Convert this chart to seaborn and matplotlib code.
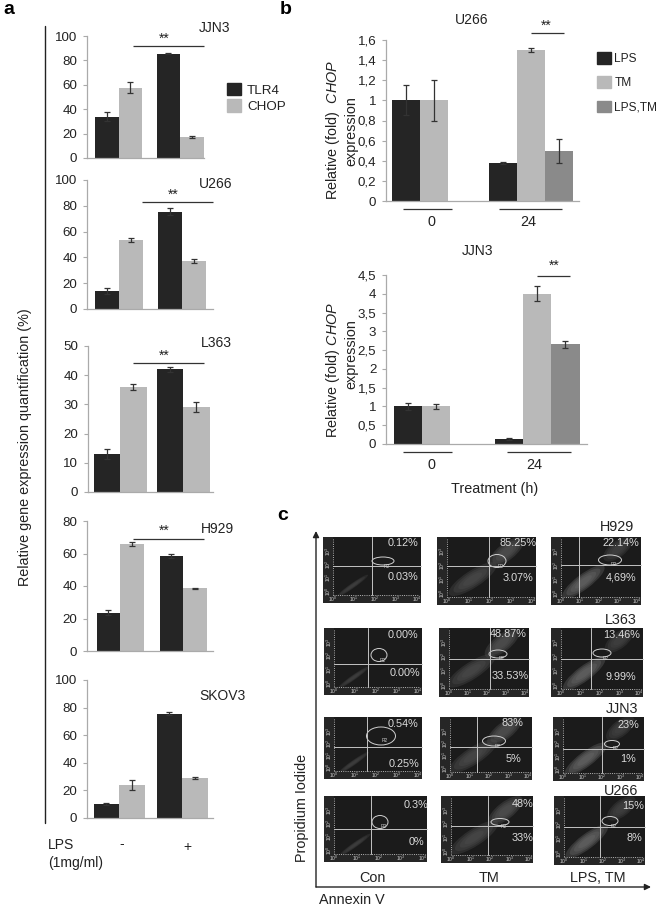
import pandas as pd
import matplotlib
matplotlib.use('Agg')
import matplotlib.pyplot as plt
from matplotlib.patches import Ellipse, Rectangle, Patch
import seaborn as sns

# panel a: values are TLR4-, CHOP-, TLR4+, CHOP+
lps_levels = ['-', '+']
genes = ['TLR4', 'CHOP']
jjn3_a = [34, 57.5, 85.5, 17]
jjn3_a_err = [3.5, 4.5, 0.5, 1]
u266_a = [14, 53.5, 75.5, 37.5]
u266_a_err = [2, 1.5, 3, 1.5]
l363_a = [13, 36, 42, 29]
l363_a_err = [1.6, 0.9, 0.8, 1.7]
h929_a = [23.5, 66, 58.5, 38.5]
h929_a_err = [1.5, 1.3, 1, 0.3]
skov3_a = [10, 24, 75.5, 29]
skov3_a_err = [0.7, 3.5, 1, 0.8]

# panel b: LPS, TM, LPS+TM at 0 h and 24 h
hours = ['0', '24']
treatments = ['LPS', 'TM', 'LPS,TM']
u266_b = [1.0, 1.0, None, 0.38, 1.5, 0.5]
u266_b_err = [0.15, 0.2, None, 0.01, 0.02, 0.12]
jjn3_b = [1.0, 1.0, None, 0.13, 4.0, 2.65]
jjn3_b_err = [0.09, 0.06, None, 0.02, 0.2, 0.1]
u266_ticks = ['0', '0,2', '0,4', '0,6', '0,8', '1', '1,2', '1,4', '1,6']
jjn3_ticks = ['0', '0,5', '1', '1,5', '2', '2,5', '3', '3,5', '4', '4,5']

# panel c: percentages, upper then lower quadrant
h929_pct = [('0.12%', '0.03%'), ('85.25%', '3.07%'), ('22.14%', '4,69%')]
l363_pct = [('0.00%', '0.00%'), ('48.87%', '33.53%'), ('13.46%', '9.99%')]
jjn3_pct = [('0.54%', '0.25%'), ('83%', '5%'), ('23%', '1%')]
u266_pct = [('0.3%', '0%'), ('48%', '33%'), ('15%', '8%')]

W, H = 658, 908
BAR_DARK = '#252525'
BAR_LIGHT = '#b9b9b9'
BAR_MID = '#8a8a8a'
TXT = '#222222'
FS = 9.6

sns.set_theme(style='white')
plt.rcParams['font.family'] = ['Liberation Sans', 'DejaVu Sans']
plt.rcParams['mathtext.fontset'] = 'custom'
plt.rcParams['mathtext.it'] = 'Liberation Sans:italic'
plt.rcParams['mathtext.rm'] = 'Liberation Sans'

fig = plt.figure(figsize=(W / 100, H / 100), dpi=100, facecolor='white')


def draw_bars(left, right, top, bottom, c0, c1, bar_total, levels, hues, vals, errs,
              ymax, ticks, ticklabels, colors):
    ax = fig.add_axes([left / W, 1 - bottom / H, (right - left) / W, (bottom - top) / H])
    rows = []
    i = 0
    for lev in levels:
        for hue in hues:
            rows.append({'x': lev, 'hue': hue, 'y': vals[i], 'err': errs[i]})
            i += 1
    df = pd.DataFrame(rows)
    df['y'] = df['y'].astype(float)
    df['err'] = df['err'].astype(float)
    sep = c1 - c0
    sns.barplot(data=df, x='x', y='y', hue='hue', order=levels, hue_order=hues,
                palette=colors, saturation=1, width=bar_total / sep, gap=0,
                errorbar=None, legend=False, linewidth=0, ax=ax)
    for cont, hue in zip(ax.containers, hues):
        sub = df[df['hue'] == hue].dropna(subset=['y'])
        for patch, (_, r) in zip(cont, sub.iterrows()):
            ax.errorbar(patch.get_x() + patch.get_width() / 2, r['y'], yerr=r['err'],
                        color='#333333', lw=0.9, capsize=2.2, capthick=0.9)
    ax.set_xlim((left - c0) / sep, (right - c0) / sep)
    ax.set_ylim(0, ymax)
    ax.set_yticks(ticks)
    ax.set_yticklabels(ticklabels)
    ax.set_xticks([])
    ax.set_xlabel('')
    ax.set_ylabel('')
    ax.tick_params(axis='y', length=3, width=0.8, color='#aaaaaa', pad=4,
                   labelsize=FS, labelcolor=TXT, left=True)
    sns.despine(ax=ax)
    for s in ['left', 'bottom']:
        ax.spines[s].set_color('#aaaaaa')
        ax.spines[s].set_linewidth(0.9)
    ax.patch.set_alpha(0)
    return ax


t100 = [0, 20, 40, 60, 80, 100]
col_a = [BAR_DARK, BAR_LIGHT]
col_b = [BAR_DARK, BAR_LIGHT, BAR_MID]

draw_bars(87, 204, 36, 158, 118.5, 180, 47, lps_levels, genes, jjn3_a, jjn3_a_err, 100, t100, t100, col_a)
draw_bars(87, 213, 180, 309, 119, 182, 48, lps_levels, genes, u266_a, u266_a_err, 100, t100, t100, col_a)
t50 = [0, 10, 20, 30, 40, 50]
draw_bars(88, 213, 346, 492, 120, 183, 53, lps_levels, genes, l363_a, l363_a_err, 50, t50, t50, col_a)
t80 = [0, 20, 40, 60, 80]
draw_bars(87, 213, 521, 651, 120, 183, 47, lps_levels, genes, h929_a, h929_a_err, 80, t80, t80, col_a)
draw_bars(87, 213, 680, 818, 119, 182, 51, lps_levels, genes, skov3_a, skov3_a_err, 100, t100, t100, col_a)

draw_bars(386, 579, 40, 201, 434, 531, 84, hours, treatments, u266_b, u266_b_err, 1.6,
          [0, .2, .4, .6, .8, 1, 1.2, 1.4, 1.6], u266_ticks, col_b)
draw_bars(386, 587, 275, 444, 436, 537, 85, hours, treatments, jjn3_b, jjn3_b_err, 4.5,
          [0, .5, 1, 1.5, 2, 2.5, 3, 3.5, 4, 4.5], jjn3_ticks, col_b)

# everything else sits on one overlay in pixel coordinates
page = fig.add_axes([0, 0, 1, 1], zorder=5)
page.set_xlim(0, W)
page.set_ylim(H, 0)
page.axis('off')
page.patch.set_alpha(0)


def txt(x, y, s, size=FS, ha='center', **kw):
    page.text(x, y, s, fontsize=size, ha=ha, va='center', color=kw.pop('color', TXT), **kw)


def hline(x0, x1, y, color='#333333', lw=0.9):
    page.plot([x0, x1], [y, y], color=color, lw=lw, solid_capstyle='butt')


txt(9, 10, 'a', size=14, fontweight='bold', color='black')
txt(286, 9, 'b', size=14, fontweight='bold', color='black')
txt(283, 516, 'c', size=14, fontweight='bold', color='black')

# panel a annotations
page.plot([45, 45], [26, 823], color='#222222', lw=1.0)
txt(25, 447, 'Relative gene expression quantification (%)', size=10.4, rotation=90)
for name, x, y in [('JJN3', 215, 28), ('U266', 216, 184), ('L363', 216, 343),
                   ('H929', 217, 529), ('SKOV3', 222, 696)]:
    txt(x, y, name, size=10)
for x0, x1, y, sx, sy in [(133, 204, 45.5, 164, 39), (142, 213, 202, 173, 195),
                          (133, 204, 363, 164, 356), (133, 204, 539, 164, 531)]:
    hline(x0, x1, y)
    txt(sx, sy, '**', size=10)
txt(48, 845, 'LPS', ha='left', size=10)
txt(48, 863, '(1mg/ml)', ha='left', size=10)
txt(122, 844, '-', size=10)
txt(187, 847, '+', size=10)

# panel b annotations
txt(472, 20, 'U266', size=10)
txt(478, 251, 'JJN3', size=10)
txt(333, 130, r'Relative (fold)  $\mathit{CHOP}$', size=10.4, rotation=90)
txt(351, 131, 'expression', size=10.4, rotation=90)
txt(333, 354 + 16, r'Relative (fold) $\mathit{CHOP}$', size=10.4, rotation=90)
txt(351, 354, 'expression', size=10.4, rotation=90)
hline(403, 452, 209)
hline(499, 562, 209)
hline(403, 452, 452)
hline(507, 571, 452)
txt(431, 222, '0', size=10.4)
txt(528, 222, '24', size=10.4)
txt(431, 465, '0', size=10.4)
txt(534, 465, '24', size=10.4)
txt(495, 489, 'Treatment (h)', size=10.4)
hline(531, 564, 33)
txt(546, 26, '**', size=10)
hline(537, 570, 276)
txt(554, 266, '**', size=10)

# legends
leg_a = page.legend(handles=[Patch(color=BAR_DARK, label='TLR4'), Patch(color=BAR_LIGHT, label='CHOP')],
                    loc='upper left', bbox_to_anchor=(227 / W, 1 - 83 / H), bbox_transform=fig.transFigure,
                    frameon=False, fontsize=FS, handlelength=1.05, handleheight=1.05,
                    labelspacing=0.2, handletextpad=0.45, borderaxespad=0, borderpad=0)
for t in leg_a.get_texts():
    t.set_color(TXT)
page.add_artist(leg_a)
leg_b = page.legend(handles=[Patch(color=BAR_DARK, label='LPS'), Patch(color=BAR_LIGHT, label='TM'),
                             Patch(color=BAR_MID, label='LPS,TM')],
                    loc='upper left', bbox_to_anchor=(597 / W, 1 - 52 / H), bbox_transform=fig.transFigure,
                    frameon=False, fontsize=8.6, handlelength=1.15, handleheight=1.15,
                    labelspacing=0.95, handletextpad=0.3, borderaxespad=0, borderpad=0)
for t in leg_b.get_texts():
    t.set_color(TXT)

# panel c: flow plots, box is x0, x1, y0, y1
boxes = [
    [(323, 421, 537, 603), (437, 536, 537, 605), (551, 641, 537, 605)],
    [(324, 422, 628, 695), (439, 529, 628, 697), (551, 643, 628, 697)],
    [(324, 422, 717, 779), (440, 532, 717, 780), (553, 644, 717, 781)],
    [(324, 427, 796, 862), (441, 533, 796, 863), (554, 645, 796, 865)],
]
cross = [
    [(372, 566), (489, 566), (579, 565)],
    [(368, 664), (490, 659), (591, 659)],
    [(367, 747), (477, 747), (602, 749)],
    [(371, 829), (488, 826), (600, 827)],
]
gates = [
    [(383, 561, 22, 8), (497, 561, 18, 13), (610, 560, 23, 10)],
    [(379, 655, 16, 13), (498, 654, 18, 8), (602, 653, 18, 8)],
    [(381, 736, 29, 18), (494, 741, 23, 10), (612, 744, 15, 7)],
    [(380, 822, 16, 13), (500, 822, 18, 7), (610, 821, 16, 9)],
]
pct_pos = [
    [((403, 543), (403, 577)), ((518, 543), (518, 578)), ((621, 543), (621, 578))],
    [((403, 635), (405, 673)), ((508, 634), (510, 676)), ((622, 635), (621, 677))],
    [((403, 724), (404, 764)), ((512, 723), (513, 759)), ((628, 725), (628, 759))],
    [((416, 805), (416, 842)), ((523, 804), (523, 838)), ((633, 806), (634, 838))],
]
pct_all = [h929_pct, l363_pct, jjn3_pct, u266_pct]
# cloud shape per column: fx, fy, length, thickness, angle, colour
clouds = [
    [(0.30, 0.74, 38, 5, -35, '#444444')],
    [(0.36, 0.62, 56, 17, -33, '#4e4e4e'), (0.70, 0.22, 42, 17, -38, '#565656')],
    [(0.36, 0.66, 52, 15, -37, '#6a6a6a'), (0.74, 0.18, 34, 16, -38, '#464646')],
]

for r in range(4):
    for c in range(3):
        x0, x1, y0, y1 = boxes[r][c]
        box = Rectangle((x0, y0), x1 - x0, y1 - y0, color='#262626', lw=0)
        page.add_patch(box)
        inner = Rectangle((x0 + 10, y0), x1 - x0 - 10, y1 - y0 - 8, color='#1b1b1b', lw=0)
        page.add_patch(inner)
        for fx, fy, ln, th, ang, colr in clouds[c]:
            for s in [1.0, 0.8, 0.6, 0.4]:
                e = Ellipse((x0 + fx * (x1 - x0), y0 + fy * (y1 - y0)), ln * s, th * s, angle=ang,
                            color=colr, alpha=0.35, lw=0)
                page.add_patch(e)
                e.set_clip_path(inner)
        vx, hy = cross[r][c]
        page.plot([vx, vx], [y0, y1 - 8], color='#c4c4c4', lw=0.7)
        page.plot([x0 + 10, x1], [hy, hy], color='#c4c4c4', lw=0.7)
        gx, gy, gw, gh = gates[r][c]
        page.add_patch(Ellipse((gx, gy), gw, gh, fill=False, ec='#d0d0d0', lw=0.7))
        page.text(gx + 4, gy + 5, 'R2', fontsize=3.5, color='#cccccc', ha='center', va='center')
        page.plot([x0 + 10, x1 - 2], [y1 - 8, y1 - 8], color='#dddddd', lw=0.6, ls=':')
        page.plot([x0 + 10, x0 + 10], [y0 + 2, y1 - 8], color='#dddddd', lw=0.6, ls=':')
        for k in range(5):
            page.text(x0 + 10 + k * (x1 - x0 - 14) / 4, y1 - 3.5, '$\\mathrm{10^{%d}}$' % k,
                      fontsize=3.6, color='#cccccc', ha='center', va='center')
        for k in range(4):
            page.text(x0 + 5, y1 - 12 - k * (y1 - y0 - 26) / 3, '$\\mathrm{10^{%d}}$' % k,
                      fontsize=3.6, color='#cccccc', ha='center', va='center', rotation=90)
        for s, (px, py) in zip(pct_all[r][c], pct_pos[r][c]):
            page.text(px, py, s, fontsize=7.8, color='#dcdcdc', ha='center', va='center', zorder=6)

for name, x, y in [('H929', 617, 527), ('L363', 621, 620), ('JJN3', 622, 709), ('U266', 621, 791)]:
    txt(x, y, name, size=10.4)
for name, x in [('Con', 372), ('TM', 489), ('LPS, TM', 598)]:
    txt(x, 878, name, size=10.4)
txt(352, 900, 'Annexin V', size=10.4)
txt(302, 808, 'Propidium Iodide', size=10.4, rotation=90)

arrow = dict(arrowstyle='-|>', color='#222222', lw=1.0, mutation_scale=9, shrinkA=0, shrinkB=0)
page.annotate('', xy=(316, 531), xytext=(316, 887), arrowprops=arrow)
page.annotate('', xy=(651, 887), xytext=(316, 887), arrowprops=arrow)

page.set_xlim(0, W)
page.set_ylim(H, 0)
fig.savefig('out.png', dpi=100)
